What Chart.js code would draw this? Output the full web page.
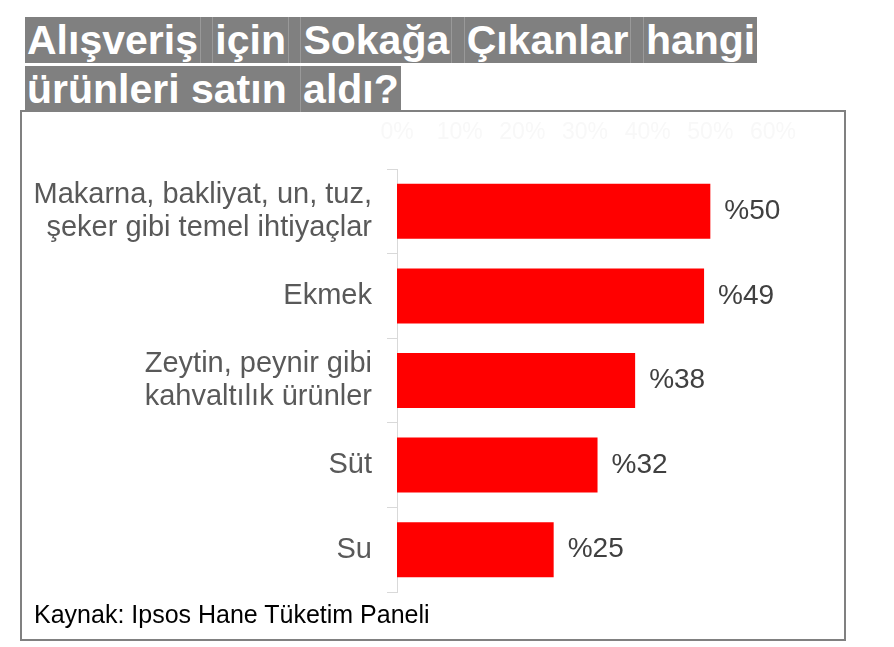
<!DOCTYPE html>
<html>
<head>
<meta charset="utf-8">
<script src="https://cdn.jsdelivr.net/npm/chart.js@4/dist/chart.umd.min.js"></script>
<style>
  html, body { margin:0; padding:0; background:#fff; width:894px; height:647px; overflow:hidden; }
  #wrap { position:relative; width:894px; height:647px; }
  #chart { position:absolute; left:0; top:0; }
  #frame { position:absolute; left:20px; top:110px; width:826px; height:531px; box-sizing:border-box; border:2px solid #808080; }
  .tl { position:absolute; left:25px; height:46px; white-space:pre; font:bold 41px "Liberation Sans", Arial, sans-serif; color:#fff; line-height:46px; z-index:3; }
  .tl span { display:inline-block; background:#808080; padding:0 2px; border-right:1px solid #999; height:46px; white-space:pre; }
  .tl span.sp { padding:0; }
  .tl span:last-child { border-right:none; }
  #t1 { top:17px; }
  #t2 { top:66px; }
  #src { position:absolute; left:34px; top:600px; font:25px "Liberation Sans", Arial, sans-serif; color:#000; z-index:3; }
</style>
</head>
<body>
<div id="wrap">
  <div id="frame"></div>
  <canvas id="chart" width="894" height="647"></canvas>
  <div class="tl" id="t1"><span>Alışveriş</span><span class="sp"> </span><span>için</span><span class="sp"> </span><span>Sokağa</span><span class="sp"> </span><span>Çıkanlar</span><span class="sp"> </span><span>hangi</span></div>
  <div class="tl" id="t2"><span>ürünleri satın </span><span>aldı?</span></div>
  <div id="src">Kaynak: Ipsos Hane Tüketim Paneli</div>
</div>
<script>
const categories = [
  ["Makarna, bakliyat, un, tuz,", "şeker gibi temel ihtiyaçlar"],
  "Ekmek",
  ["Zeytin, peynir gibi", "kahvaltılık ürünler"],
  "Süt",
  "Su"
];
const values = [50, 49, 38, 32, 25];
const axisMax = 60;
const axisStep = 10;

const valueLabels = {
  id: 'valueLabels',
  afterDatasetsDraw(chart) {
    const ctx = chart.ctx;
    const meta = chart.getDatasetMeta(0);
    ctx.save();
    ctx.font = '28px "Liberation Sans", Arial, sans-serif';
    ctx.fillStyle = '#404040';
    ctx.textAlign = 'left';
    ctx.textBaseline = 'middle';
    meta.data.forEach((bar, i) => {
      ctx.fillText('%' + values[i], bar.x + 14, bar.y);
    });
    ctx.restore();
  }
};

new Chart(document.getElementById('chart'), {
  type: 'bar',
  data: {
    labels: categories,
    datasets: [{
      data: values,
      backgroundColor: '#ff0000',
      borderWidth: 0,
      barPercentage: 0.65,
      categoryPercentage: 1
    }]
  },
  options: {
    indexAxis: 'y',
    responsive: false,
    animation: false,
    devicePixelRatio: 1,
    layout: { padding: { left: 0, right: 121, top: 110, bottom: 55 } },
    plugins: { legend: { display: false }, tooltip: { enabled: false } },
    scales: {
      x: {
        position: 'top',
        min: 0, max: axisMax,
        grid: { display: false },
        border: { display: false },
        ticks: {
          stepSize: axisStep,
          padding: 15,
          color: '#f8f8f8',
          font: { family: '"Liberation Sans", Arial, sans-serif', size: 23 },
          callback: v => v + '%'
        },
        afterFit: s => { s.height = 59; }
      },
      y: {
        grid: { offset: true, drawOnChartArea: false, tickLength: 10, color: '#d9d9d9', lineWidth: 1 },
        border: { color: '#d9d9d9', width: 1 },
        ticks: {
          padding: 15,
          color: '#595959',
          font: { family: '"Liberation Sans", Arial, sans-serif', size: 29, lineHeight: 1.14 }
        },
        afterFit: s => { s.width = 397; }
      }
    }
  },
  plugins: [valueLabels]
});
</script>
</body>
</html>
